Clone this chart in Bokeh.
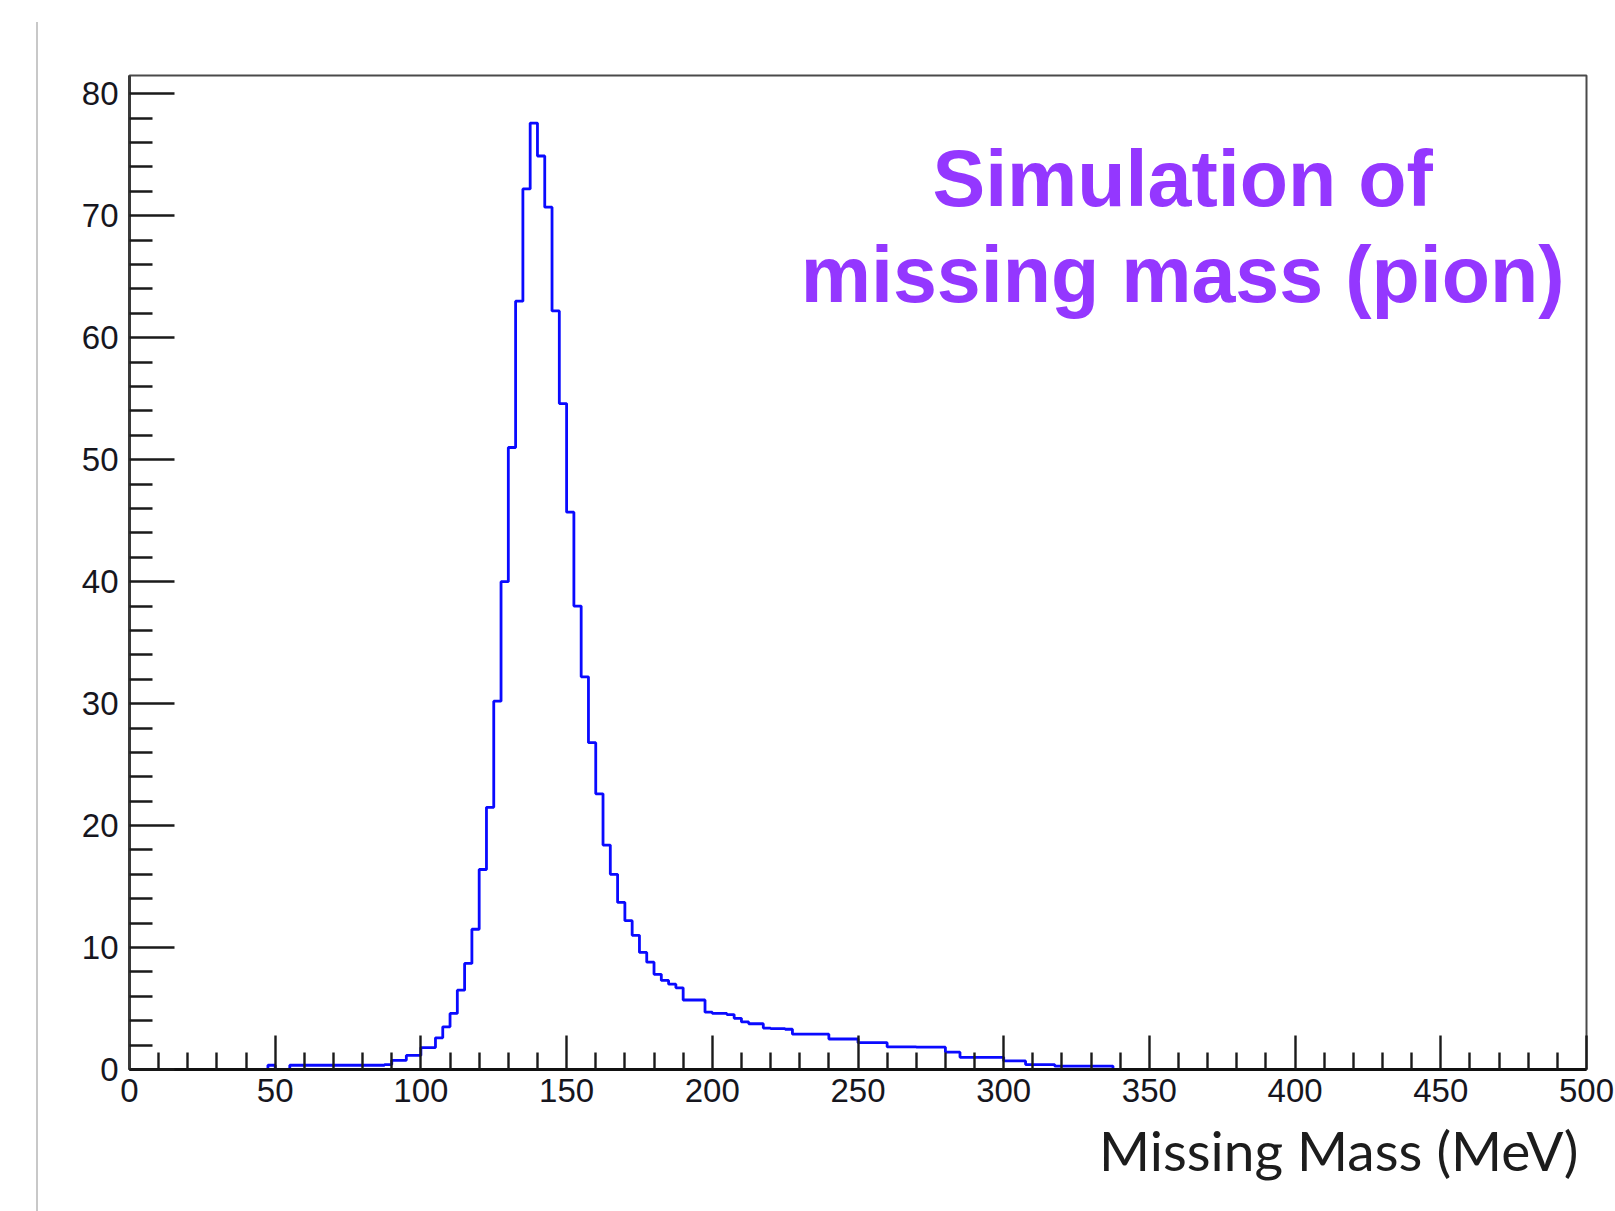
from bokeh.plotting import figure
from bokeh.models import Range1d, FixedTicker, Label, Div, ColumnDataSource, Title
from bokeh.layouts import row
from bokeh.embed import file_html
from bokeh.resources import INLINE

# ---- data (2.5 MeV bins starting at 45 MeV) ----
BIN_START = 45.0
BIN_WIDTH = 2.5
counts = [
    0, 0.35, 0, 0, 0.35, 0.35, 0.35, 0.35, 0.35, 0.35,
    0.35, 0.35, 0.35, 0.35, 0.35, 0.35, 0.35, 0.4, 0.75, 0.75,
    1.15, 1.15, 1.8, 1.8, 2.6, 3.5, 4.6, 6.5, 8.7, 11.5,
    16.4, 21.5, 30.2, 40.0, 51.0, 63.0, 72.2, 77.6, 74.9, 70.7,
    62.2, 54.6, 45.7, 38.0, 32.2, 26.8, 22.6, 18.4, 16.0, 13.7,
    12.2, 11.0, 9.6, 8.8, 7.8, 7.3, 7.0, 6.7, 5.7, 5.7,
    5.7, 4.7, 4.6, 4.6, 4.5, 4.2, 3.9, 3.75, 3.75, 3.4,
    3.35, 3.35, 3.3, 2.9, 2.9, 2.9, 2.9, 2.9, 2.5, 2.5,
    2.5, 2.5, 2.2, 2.2, 2.2, 2.2, 1.85, 1.85, 1.85, 1.85,
    1.83, 1.83, 1.83, 1.83, 1.42, 1.42, 1.0, 1.0, 1.0, 1.0,
    1.0, 1.0, 0.7, 0.7, 0.7, 0.4, 0.4, 0.4, 0.4, 0.28,
    0.28, 0.28, 0.28, 0.28, 0.28, 0.28, 0.28,
]
x_ticks = [0, 50, 100, 150, 200, 250, 300, 350, 400, 450, 500]
x_minor = [v for v in range(0, 501, 10) if v % 50 != 0]
y_ticks = [0, 10, 20, 30, 40, 50, 60, 70, 80]
y_minor = [v for v in range(0, 81, 2) if v % 10 != 0]
x_title = "Missing Mass (MeV)"
note_lines = ["Simulation of", "missing mass (pion)"]

edges = [BIN_START + BIN_WIDTH * i for i in range(len(counts) + 1)]
levels = counts + [0.0]
src = ColumnDataSource(dict(x=edges, y=levels))

p = figure(width=1579, height=1211,
           x_range=Range1d(0, 500), y_range=Range1d(0, 81.5),
           output_backend="svg", toolbar_location=None,
           min_border_left=83, min_border_right=39,
           min_border_top=75, min_border_bottom=142)

p.background_fill_color = "white"
p.border_fill_color = "white"
p.grid.visible = False
p.outline_line_color = "#4a4a4a"
p.outline_line_width = 2

p.step(x="x", y="y", source=src, mode="after", line_color="#0a0aff", line_width=2.8)

label_font = "Liberation Sans"
for ax in (p.xaxis[0], p.yaxis[0]):
    ax.major_tick_out = 0
    ax.minor_tick_out = 0
    ax.major_tick_line_width = 2.4
    ax.minor_tick_line_width = 2.4
    ax.major_tick_line_color = "#1a1a1a"
    ax.minor_tick_line_color = "#1a1a1a"
    ax.axis_line_width = 3
    ax.major_label_text_font = label_font
    ax.major_label_text_font_size = "33px"
    ax.major_label_text_color = "#16161e"

p.xaxis.ticker = FixedTicker(ticks=x_ticks, minor_ticks=x_minor)
p.yaxis.ticker = FixedTicker(ticks=y_ticks, minor_ticks=y_minor)
p.xaxis.major_tick_in = 34
p.xaxis.minor_tick_in = 17
p.yaxis.major_tick_in = 45
p.yaxis.minor_tick_in = 23
p.xaxis.axis_line_color = "#111111"
p.yaxis.axis_line_color = "#3a3a3a"
p.xaxis.major_label_standoff = 9
p.yaxis.major_label_standoff = 11

p.add_layout(Title(text=x_title, align="right", offset=8, standoff=20,
                   text_font="Lato", text_font_style="normal",
                   text_font_size="55px", text_color="#1c1c1c"), "below")

note_y = [73.05, 65.15]
for txt, yy in zip(note_lines, note_y):
    p.add_layout(Label(x=361.4, y=yy, text=txt, text_align="center",
                       text_baseline="alphabetic", text_font="Liberation Sans",
                       text_font_style="bold", text_font_size="79px",
                       text_color="#9437ff"))

edge = Div(width=36, height=1211,
           text='<div style="margin-left:31px;margin-top:17px;width:2px;height:1194px;background:#c8c8c8"></div>')

layout = row(edge, p, spacing=0)
open("out.html", "w").write(file_html(layout, INLINE))
